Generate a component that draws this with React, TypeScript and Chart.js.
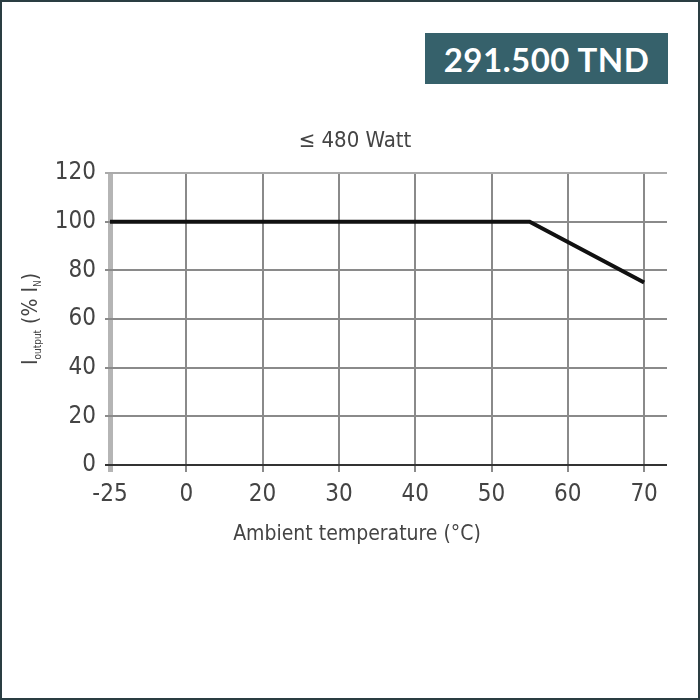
import React, { useEffect, useRef } from "react";
import { Chart, registerables } from "chart.js";

Chart.register(...registerables);

const tickLabels = ["-25", "0", "20", "30", "40", "50", "60", "70"];
const temperatures = [-25, 55, 70];
const outputCurrent = [100, 100, 75];
const yMin = 0;
const yMax = 120;
const yStep = 20;
const chartTitle = "≤ 480 Watt";
const xTitle = "Ambient temperature (°C)";
const priceText = "291.500 TND";

const tickTemps = tickLabels.map(Number);
function tempToPos(t: number): number {
  for (let i = 0; i < tickTemps.length - 1; i++) {
    const a = tickTemps[i];
    const b = tickTemps[i + 1];
    if (t >= a && t <= b) return i + (t - a) / (b - a);
  }
  return tickTemps.length - 1;
}

const FONT = "'Liberation Sans Narrow', 'DejaVu Sans Condensed', 'Liberation Sans', sans-serif";
const TEXT = "#444";

const textPlugin = {
  id: "texts",
  afterDraw(chart: any) {
    const ctx = chart.ctx as CanvasRenderingContext2D;
    ctx.save();
    ctx.fillStyle = TEXT;
    ctx.textBaseline = "middle";
    ctx.textAlign = "center";
    ctx.font = `22px ${FONT}`;
    ctx.fillText(chartTitle, 355, 141);
    ctx.font = `21px ${FONT}`;
    ctx.fillText(xTitle, 357, 535);
    // y title rotated with subscripts
    ctx.translate(32, 319);
    ctx.rotate(-Math.PI / 2);
    const parts = [
      { t: "I", s: 21, dy: 0 },
      { t: "output", s: 10, dy: 6 },
      { t: " (% I", s: 21, dy: 0 },
      { t: "N", s: 10, dy: 6 },
      { t: ")", s: 21, dy: 0 },
    ];
    let total = 0;
    for (const p of parts) {
      ctx.font = `${p.s}px ${FONT}`;
      total += ctx.measureText(p.t).width;
    }
    let x = -total / 2;
    ctx.textAlign = "left";
    for (const p of parts) {
      ctx.font = `${p.s}px ${FONT}`;
      ctx.fillText(p.t, x, p.dy);
      x += ctx.measureText(p.t).width;
    }
    ctx.restore();
  },
};

export default function App() {
  const ref = useRef<HTMLCanvasElement>(null);
  useEffect(() => {
    if (!ref.current) return;
    const chart = new Chart(ref.current, {
      type: "line",
      data: {
        datasets: [
          {
            data: temperatures.map((t, i) => ({ x: tempToPos(t), y: outputCurrent[i] })),
            borderColor: "#111",
            borderWidth: 4,
            pointRadius: 0,
            tension: 0,
            fill: false,
          },
        ],
      },
      options: {
        animation: false,
        responsive: false,
        maintainAspectRatio: false,
        layout: { padding: { left: 0, top: 173, right: 33, bottom: 0 } },
        plugins: { legend: { display: false }, title: { display: false }, tooltip: { enabled: false } },
        scales: {
          x: {
            type: "linear",
            min: 0,
            max: 7.3,
            afterBuildTicks: (scale: any) => {
              scale.ticks = tickLabels.map((_, i) => ({ value: i }));
            },
            afterFit: (scale: any) => {
              scale.height = 235;
            },
            ticks: {
              stepSize: 1,
              autoSkip: false,
              maxRotation: 0,
              padding: 8,
              color: TEXT,
              font: { family: FONT, size: 24 },
              callback: (v: any) => tickLabels[Math.round(Number(v))] ?? "",
            },
            border: { display: false },
            grid: {
              drawOnChartArea: true,
              tickLength: 7,
              color: (c: any) => (c.index === 0 ? "#b5b5b5" : "#8a8a8a"),
              lineWidth: (c: any) => (c.index === 0 ? 5 : 2),
            },
          },
          y: {
            min: yMin,
            max: yMax,
            afterFit: (scale: any) => {
              scale.width = 110;
            },
            ticks: {
              stepSize: yStep,
              padding: 9,
              color: TEXT,
              font: { family: FONT, size: 24 },
            },
            border: { display: false },
            grid: {
              tickLength: 5,
              color: (c: any) =>
                c.tick && c.tick.value === 0 ? "#333" : c.tick && c.tick.value === yMax ? "#aaa" : "#8a8a8a",
              lineWidth: 2,
            },
          },
        },
      },
      plugins: [textPlugin],
    });
    return () => chart.destroy();
  }, []);

  return (
    <div style={{ position: "fixed", left: 0, top: 0, width: 700, height: 700, background: "#fff" }}>
      <canvas ref={ref} width={700} height={700} style={{ position: "absolute", left: 0, top: 0, width: 700, height: 700 }} />
      <div
        style={{
          position: "absolute",
          left: 425,
          top: 33,
          width: 243,
          height: 51,
          background: "#36616b",
          color: "#fff",
          fontFamily: "Lato, 'Open Sans', sans-serif",
          fontWeight: 700,
          fontSize: 33,
          display: "flex",
          alignItems: "center",
          justifyContent: "center",
          letterSpacing: 0.5,
        }}
      >
        {priceText}
      </div>
      <div
        style={{
          position: "absolute",
          left: 0,
          top: 0,
          width: 700,
          height: 700,
          boxSizing: "border-box",
          border: "2px solid #2a3d42",
          pointerEvents: "none",
        }}
      />
    </div>
  );
}
